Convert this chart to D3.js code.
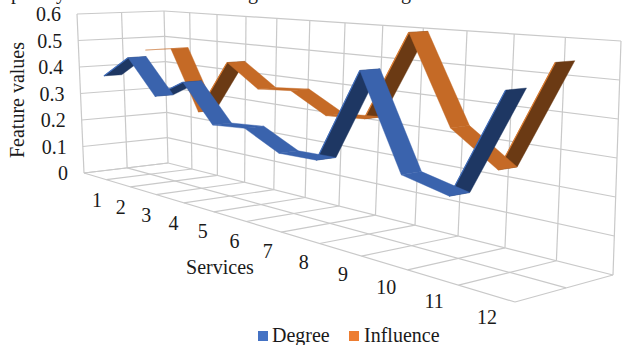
<!DOCTYPE html>
<html lang="en">
<head>
<meta charset="UTF-8">
<script src="https://d3js.org/d3.v7.min.js"></script>
<style>
    html, body { margin: 0; padding: 0; background: #fff; }
    svg { display: block; }
    text { font-family: "Liberation Serif", serif; fill: #1a1a1a; }
</style>
</head>
<body>
<script>
var categories = ["1","2","3","4","5","6","7","8","9","10","11","12"];
var degree = [0.37,0.45,0.326,0.39,0.264,0.273,0.217,0.22,0.497,0.229,0.2,0.489];
var influence = [0.458,0.474,0.257,0.447,0.37,0.38,0.317,0.326,0.597,0.339,0.247,0.547];
var yTicks = [0,0.1,0.2,0.3,0.4,0.5,0.6];
var yLabels = ["0","0.1","0.2","0.3","0.4","0.5","0.6"];
// tails of the cropped caption line above the chart
var captionTails = ["p","y","g","g"];
var captionX = [16,61,253,406];

var width = 622, height = 345;
var svg = d3.select("body").append("svg").attr("width", width).attr("height", height);

// box corners as they land on screen
var floorCorners = [[84,173],[515,302],[613,275],[168,163]];
var topCorners = [[77,14],[520,48],[621,41],[164,11]];

// square to quad homography
function quadMap(q) {
    var dx1 = q[1][0]-q[2][0], dx2 = q[3][0]-q[2][0], sx = q[0][0]-q[1][0]+q[2][0]-q[3][0];
    var dy1 = q[1][1]-q[2][1], dy2 = q[3][1]-q[2][1], sy = q[0][1]-q[1][1]+q[2][1]-q[3][1];
    var det = dx1*dy2-dx2*dy1;
    var g = (sx*dy2-dx2*sy)/det, h = (dx1*sy-sx*dy1)/det;
    var a = q[1][0]-q[0][0]+g*q[1][0], b = q[3][0]-q[0][0]+h*q[3][0];
    var d = q[1][1]-q[0][1]+g*q[1][1], e = q[3][1]-q[0][1]+h*q[3][1];
    return function(u, v) {
        var w = g*u+h*v+1;
        return [(a*u+b*v+q[0][0])/w, (d*u+e*v+q[0][1])/w];
    };
}
var floorMap = quadMap(floorCorners), topMap = quadMap(topCorners);

var xScale = d3.scaleLinear().domain([0, categories.length]).range([0, 1]);
var yScale = d3.scaleLinear().domain([0, 0.6]).range([0, 1]);
// labels sit a little right of the projected slot, most in the middle
var labelShift = d3.scaleLinear().domain([0, 5, 11]).range([2, 5, 1]);

// category position, depth (0 front, 1 back), value -> screen
function project(c, depth, val) {
    var u = xScale(c), t = yScale(val);
    var a = floorMap(u, depth), b = topMap(u, depth);
    return [a[0]+(b[0]-a[0])*t, a[1]+(b[1]-a[1])*t];
}
var line = d3.line();
function seg(p) {
    return svg.append("path").attr("d", line(p)).attr("fill", "none")
        .attr("stroke", "#c9c9c9").attr("stroke-width", 1.2);
}

// back wall
d3.range(0, categories.length+1).forEach(function(c) {
    seg([project(c,1,0), project(c,1,0.6)]);
    seg([project(c,0,0), project(c,1,0)]);
});
yTicks.forEach(function(t) {
    seg([project(0,1,t), project(categories.length,1,t)]);
    seg([project(0,0,t), project(0,1,t)]);
});
// left wall + floor depth lines
[0,0.5].forEach(function(d) {
    seg([project(0,d,0), project(0,d,0.6)]);
    seg([project(0,d,0), project(categories.length,d,0)]);
});

function ribbon(values, front, back, light, dark, edge) {
    var quads = d3.range(values.length-1).map(function(i) {
        var p = [project(i+0.5,front,values[i]), project(i+1.5,front,values[i+1]),
                 project(i+1.5,back,values[i+1]), project(i+0.5,back,values[i])];
        return { pts: p, rising: values[i+1] > values[i] + 0.02 };
    });
    // undersides first, top faces over them
    quads.filter(function(q) { return q.rising; }).forEach(function(q) {
        svg.append("path").attr("d", line(q.pts)+"Z").attr("fill", dark).attr("stroke", dark).attr("stroke-width", 0.4);
        svg.append("path").attr("d", line([q.pts[0], q.pts[1]])).attr("stroke", edge).attr("stroke-width", 1.2).attr("fill", "none");
    });
    quads.filter(function(q) { return !q.rising; }).forEach(function(q) {
        svg.append("path").attr("d", line(q.pts)+"Z").attr("fill", light).attr("stroke", light).attr("stroke-width", 0.4);
    });
}
ribbon(influence, 0.62, 0.82, "#c56a26", "#6b3a14", "#d9792e");
ribbon(degree, 0.14, 0.34, "#3a63ad", "#1e3763", "#3f6cbb");

// value labels
yTicks.forEach(function(t, i) {
    var p = project(0,0,t);
    svg.append("text").attr("x", p[0]-16).attr("y", p[1]+7).attr("text-anchor", "end")
        .attr("font-size", 20).text(yLabels[i]);
});
categories.forEach(function(c, i) {
    var p = project(i+0.5,0,0);
    svg.append("text").attr("x", p[0]+labelShift(i)).attr("y", p[1]+31).attr("text-anchor", "middle")
        .attr("font-size", 20).text(c);
});
svg.append("text").attr("transform", "translate(24,100) rotate(-90)").attr("text-anchor", "middle")
    .attr("font-size", 20).text("Feature values");
svg.append("text").attr("x", 220).attr("y", 274).attr("text-anchor", "middle")
    .attr("font-size", 20).text("Services");

// legend
svg.append("rect").attr("x", 258).attr("y", 331).attr("width", 10).attr("height", 10).attr("fill", "#4472c4");
svg.append("text").attr("x", 272).attr("y", 342).attr("font-size", 20).text("Degree");
svg.append("rect").attr("x", 349).attr("y", 331).attr("width", 10).attr("height", 10).attr("fill", "#ed7d31");
svg.append("text").attr("x", 364).attr("y", 342).attr("font-size", 20).text("Influence");

captionTails.forEach(function(c, i) {
    svg.append("text").attr("x", captionX[i]).attr("y", -1).attr("text-anchor", "middle")
        .attr("font-size", 20).text(c);
});
</script>
</body>
</html>
